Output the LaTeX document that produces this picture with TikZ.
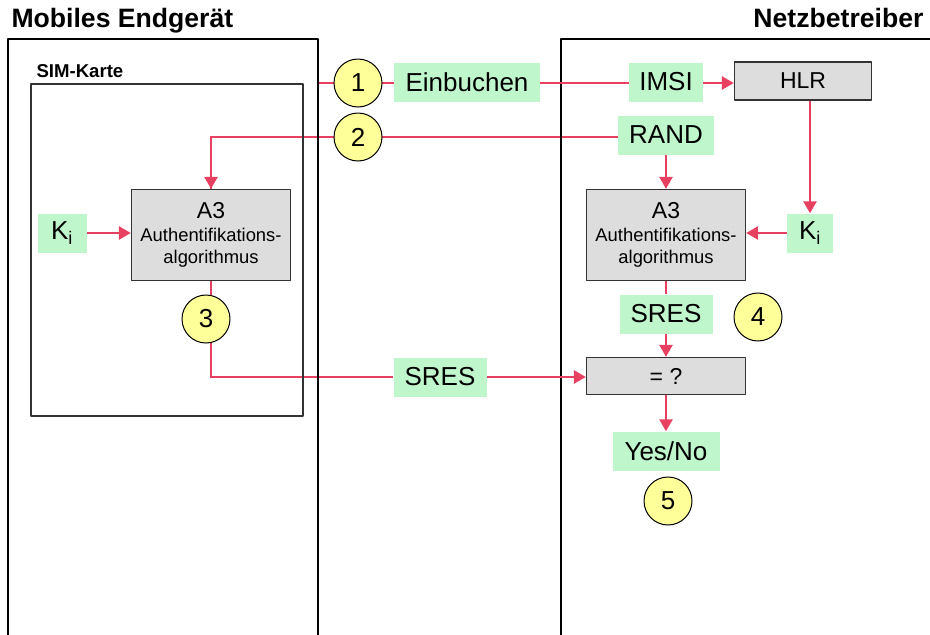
\documentclass[tikz,border=0pt]{standalone}
\usepackage{fontspec}
\setmainfont{Liberation Sans}
\usetikzlibrary{arrows.meta,backgrounds}
\definecolor{linkred}{RGB}{232,64,96}
\definecolor{labelgreen}{RGB}{192,246,204}
\definecolor{stepyellow}{RGB}{255,255,153}
\definecolor{boxgrey}{RGB}{221,221,221}
\begin{document}
\begin{tikzpicture}[x=1pt,y=-1pt,line join=round,>={Triangle[length=12pt,width=13pt]},
	big/.style={font=\fontsize{26}{30}\selectfont},
	label/.style={big,fill=labelgreen,inner sep=0pt,minimum height=39pt},
	step num/.style={big,circle,draw,fill=stepyellow,line width=1pt,minimum size=48pt,inner sep=0pt},
	algo/.style={draw=black!80,fill=boxgrey,line width=1.3pt,inner sep=0pt,align=center,
		font=\fontsize{18.4}{22.5}\selectfont},
	link/.style={draw=linkred,line width=2.6pt}]
	\useasboundingbox (0,0) rectangle (930,635);
	% Ueberschriften und Rahmen
	\node[anchor=base west,font=\bfseries\fontsize{26.6}{30}\selectfont] (mobil) at (8,27) {Mobiles Endgerät};
	\node[anchor=base east,font=\bfseries\fontsize{26.6}{30}\selectfont] (netz) at (927,27) {Netzbetreiber};
	\draw[line width=1.2pt] (8,640)--(8,39)--(318,39)--(318,640)
		(561,640)--(561,39)--(935,39);
	\node[anchor=base west,font=\bfseries\fontsize{18.6}{22}\selectfont] (sim) at (33,77) {SIM-Karte};
	\draw[line width=1.2pt,draw=black!80] (31,84) rectangle (303,416);
	% Nodes
	\node[step num] (s1) at (358,83) {1};
	\node[step num] (s2) at (358,137) {2};
	\node[step num] (s3) at (206,319) {3};
	\node[step num] (s4) at (758,317) {4};
	\node[step num] (s5) at (668,501) {5};
	\node[label,minimum width=146pt] (einb) at (467,82) {Einbuchen};
	\node[label,minimum width=74pt] (imsi) at (666,82) {IMSI};
	\node[label,minimum width=96pt] (rand) at (666,135) {RAND};
	\node[algo,minimum width=137pt,minimum height=38pt,font=\fontsize{23}{26}\selectfont] (hlr) at (803,81) {HLR};
	\node[algo,minimum width=159pt,minimum height=91pt] (a3l) at (211,235)
		{{\fontsize{23}{26}\selectfont A3}\\Authentifikations-\\algorithmus};
	\node[algo,minimum width=159pt,minimum height=91pt] (a3r) at (666,235)
		{{\fontsize{23}{26}\selectfont A3}\\Authentifikations-\\algorithmus};
	\node[label,minimum width=49pt] (kil) at (62,233) {K\textsubscript{i}};
	\node[label,minimum width=46pt] (kir) at (810,233) {K\textsubscript{i}};
	\node[label,minimum width=93pt] (sres1) at (440,377) {SRES};
	\node[label,minimum width=93pt] (sres2) at (666,314) {SRES};
	\node[algo,minimum width=159pt,minimum height=37pt,font=\fontsize{23}{26}\selectfont] (vgl) at (666,376) {= ?};
	\node[label,minimum width=107pt] (yesno) at (666,451) {Yes/No};
	% Verbindungen
	\coordinate (edge) at (318,83);
	\begin{scope}[on background layer]
		\draw[link] (edge)--(edge-|einb.west);
		\draw[link] (s2-|rand.west)-|(a3l.north);
		\draw[link] (a3l.south)|-(sres1.west);
	\end{scope}
	\draw[link] (edge-|einb.east)--(edge-|imsi.west);
	\draw[link,->] (edge-|imsi.east)--(edge-|hlr.west);
	\draw[link,->] (s2-|a3l.north)--(a3l.north);
	\draw[link,->] (rand)--(a3r);
	\draw[link,->] (kir|-hlr.south)--(kir.north);
	\draw[link,->] (kir)--(kir-|a3r.east);
	\draw[link,->] (kil)--(kil-|a3l.west);
	\draw[link,->] (sres1)--(sres1-|vgl.west);
	\draw[link] (a3r)--(sres2);
	\draw[link,->] (sres2)--(vgl);
	\draw[link,->] (vgl)--(yesno);
\end{tikzpicture}
\end{document}
